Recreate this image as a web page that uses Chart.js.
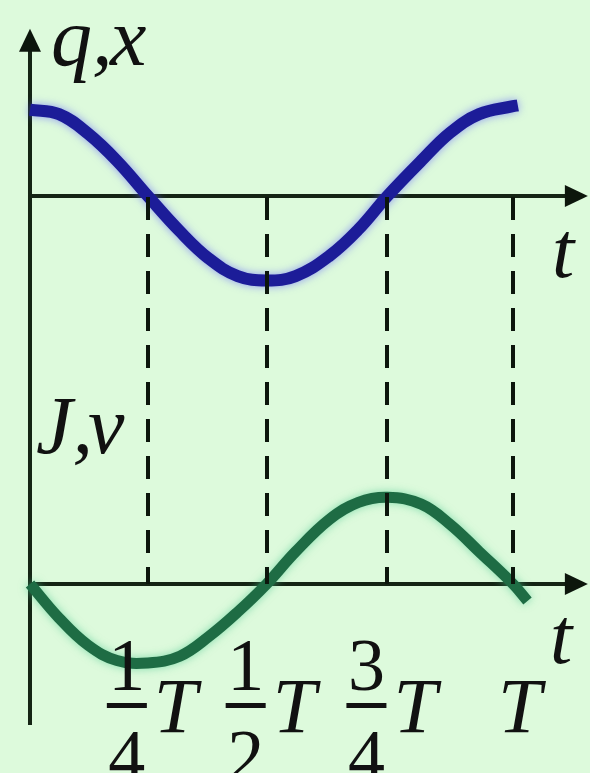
<!DOCTYPE html>
<html>
<head>
<meta charset="utf-8">
<script src="https://cdn.jsdelivr.net/npm/chart.js@4.4.1/dist/chart.umd.min.js"></script>
<style>
  html, body { margin: 0; padding: 0; background: #ddfadc; }
  canvas { display: block; }
</style>
</head>
<body>
<canvas id="chart" width="590" height="773"></canvas>
<script>
// time is in periods T
const chargeTimes   = [0, 0.06, 0.12, 0.18, 0.244, 0.31, 0.37, 0.43, 0.49, 0.55, 0.62, 0.68, 0.74, 0.81, 0.87, 0.93, 1.0, 1.01];
const chargeValues  = [0.98, 0.93, 0.71, 0.40, 0, -0.40, -0.71, -0.91, -0.96, -0.91, -0.68, -0.38, 0, 0.40, 0.72, 0.93, 1.02, 1.03];

const currentTimes  = [0, 0.06, 0.12, 0.18, 0.244, 0.31, 0.37, 0.43, 0.49, 0.55, 0.62, 0.68, 0.74, 0.81, 0.87, 0.93, 1.0, 1.03];
const currentValues = [0, -0.40, -0.72, -0.90, -0.93, -0.85, -0.62, -0.33, 0, 0.38, 0.76, 0.96, 1.02, 0.94, 0.70, 0.38, 0, -0.20];

const quarterTimes        = [0.244, 0.49, 0.74, 1.0];
const quarterNumerators   = ['1', '1', '3', ''];
const quarterDenominators = ['4', '2', '4', ''];
const periodSymbol = 'T';

const topAxisLabel = ['q,', 'x'];
const bottomAxisLabel = ['J,', 'v'];
const timeLabel = 't';

function points(times, values) {
    return times.map((t, i) => ({ x: t, y: values[i] }));
}

function arrow(ctx, tipX, tipY, dir) {
    // dir: 'up' or 'right'
    ctx.beginPath();
    if (dir === 'up') {
        ctx.moveTo(tipX, tipY);
        ctx.lineTo(tipX - 11, tipY + 23);
        ctx.lineTo(tipX + 11, tipY + 23);
    } else {
        ctx.moveTo(tipX, tipY);
        ctx.lineTo(tipX - 23, tipY - 11);
        ctx.lineTo(tipX - 23, tipY + 11);
    }
    ctx.closePath();
    ctx.fill();
}

const halos = ['rgba(90, 90, 255, 0.6)', 'rgba(70, 200, 140, 0.6)'];

const drawing = {
    id: 'drawing',
    beforeDraw(chart) {
        const ctx = chart.ctx;
        ctx.save();
        ctx.fillStyle = '#ddfadc';
        ctx.fillRect(0, 0, chart.width, chart.height);
        ctx.restore();
    },
    beforeDatasetsDraw(chart) {
        const { ctx, scales } = chart;
        const x0 = scales.x.getPixelForValue(0);
        const xEnd = scales.x.getPixelForValue(1.155);
        const yTop = scales.yq.getPixelForValue(1.9);
        const yBottom = scales.yv.getPixelForValue(-1.66);
        const yq0 = scales.yq.getPixelForValue(0);
        const yv0 = scales.yv.getPixelForValue(0);

        ctx.save();
        ctx.strokeStyle = '#142414';
        ctx.fillStyle = '#0c160c';
        ctx.lineWidth = 4;
        ctx.beginPath();
        ctx.moveTo(x0, yTop + 10);
        ctx.lineTo(x0, yBottom);
        ctx.moveTo(x0, yq0);
        ctx.lineTo(xEnd - 10, yq0);
        ctx.moveTo(x0, yv0);
        ctx.lineTo(xEnd - 10, yv0);
        ctx.stroke();
        arrow(ctx, x0, yTop, 'up');
        arrow(ctx, xEnd, yq0, 'right');
        arrow(ctx, xEnd, yv0, 'right');
        ctx.restore();
    },
    beforeDatasetDraw(chart, args) {
        const ctx = chart.ctx;
        ctx.save();
        ctx.shadowColor = halos[args.index];
        ctx.shadowBlur = 8;
    },
    afterDatasetDraw(chart) {
        chart.ctx.restore();
    },
    afterDatasetsDraw(chart) {
        const { ctx, scales } = chart;
        const yq0 = scales.yq.getPixelForValue(0);
        const yv0 = scales.yv.getPixelForValue(0);

        ctx.save();
        ctx.strokeStyle = '#0c160c';
        ctx.lineWidth = 4;
        ctx.setLineDash([23, 14]);
        quarterTimes.forEach(t => {
            const px = Math.round(scales.x.getPixelForValue(t));
            ctx.beginPath();
            ctx.moveTo(px, yq0 + 1);
            ctx.lineTo(px, yv0);
            ctx.stroke();
        });
        ctx.setLineDash([]);

        ctx.fillStyle = '#111';
        ctx.textBaseline = 'alphabetic';

        // axis names
        ctx.font = 'italic 82px "Liberation Serif"';
        ctx.textAlign = 'left';
        ctx.fillText(topAxisLabel[0], 51, 65);
        ctx.fillText(topAxisLabel[1], 110, 65);
        ctx.fillText(bottomAxisLabel[0], 36, 453);
        ctx.fillText(bottomAxisLabel[1], 88, 453);

        ctx.font = 'italic 80px "Liberation Serif"';
        ctx.textAlign = 'center';
        ctx.fillText(timeLabel, 563, 277);
        ctx.fillText(timeLabel, 561, 663);

        // fraction tick labels
        quarterTimes.forEach((t, i) => {
            const px = scales.x.getPixelForValue(t);
            ctx.font = 'italic 78px "Liberation Serif"';
            ctx.textAlign = 'left';
            if (quarterNumerators[i]) {
                const fx = px - 21;
                ctx.fillText(periodSymbol, px + 6, 732);
                ctx.font = '74px "Liberation Serif"';
                ctx.textAlign = 'center';
                ctx.fillText(quarterNumerators[i], fx, 690);
                ctx.fillText(quarterDenominators[i], fx, 781);
                ctx.fillRect(fx - 20, 703, 40, 5);
            } else {
                ctx.fillText(periodSymbol, px - 15, 732);
            }
        });
        ctx.restore();
    }
};

new Chart(document.getElementById('chart'), {
    type: 'line',
    data: {
        datasets: [{
            data: points(chargeTimes, chargeValues),
            yAxisID: 'yq',
            borderColor: '#1c1c98',
            borderWidth: 12,
            pointRadius: 0,
            tension: 0.4,
            fill: false
        }, {
            data: points(currentTimes, currentValues),
            yAxisID: 'yv',
            borderColor: '#1e6c44',
            borderWidth: 11,
            pointRadius: 0,
            tension: 0.4,
            fill: false
        }]
    },
    options: {
        responsive: false,
        animation: false,
        events: [],
        layout: { padding: 0 },
        plugins: { legend: { display: false }, tooltip: { enabled: false } },
        scales: {
            x: { type: 'linear', min: -0.0621, max: 1.1594, display: false },
            yq: { type: 'linear', min: -6.557, max: 2.227, display: false },
            yv: { type: 'linear', min: -2.224, max: 6.871, display: false }
        }
    },
    plugins: [drawing]
});
</script>
</body>
</html>
